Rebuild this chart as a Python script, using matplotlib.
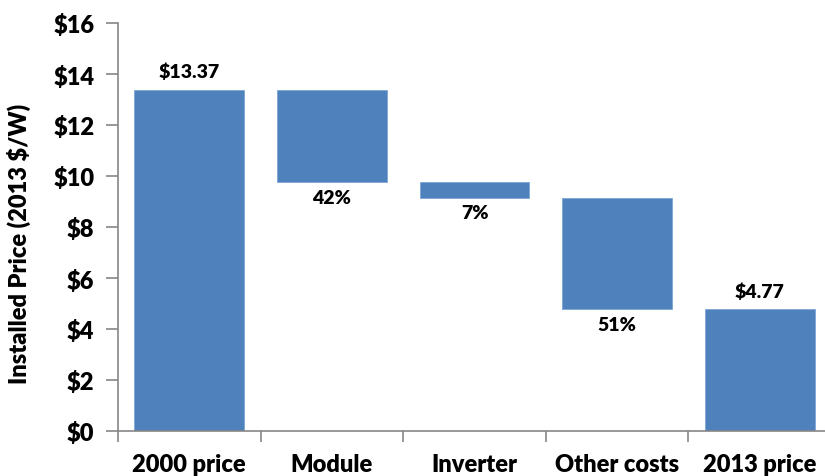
import matplotlib.pyplot as plt
import numpy as np

categories = ['2000 price', 'Module', 'Inverter', 'Other costs', '2013 price']
start_price = 13.37
end_price = 4.77
shares = [0.42, 0.07, 0.51]          # share of total drop per component
share_labels = ['42%', '7%', '51%']

yticks = np.arange(0, 17, 2)
ytick_labels = ['$%d' % v for v in yticks]

bar_color = '#4F81BD'
axis_color = '#868686'

plt.rcParams['font.family'] = ['Lato', 'DejaVu Sans']
W = 'heavy'

fig = plt.figure(figsize=(8.25, 4.77), dpi=100)
ax = fig.add_axes([118/825, 45/477, 713/825, 408/477])

drop = start_price - end_price
tops = [start_price]
bottoms = [0]
level = start_price
for s in shares:
    d = drop * s
    tops.append(level)
    bottoms.append(level - d)
    level -= d
tops.append(end_price)
bottoms.append(0)
heights = [t - b for t, b in zip(tops, bottoms)]

x = np.arange(len(categories))
ax.bar(x, heights, bottom=bottoms, width=0.77, color=bar_color,
       edgecolor='#7EA6D6', linewidth=0.6)

# value labels on totals
for i, v in [(0, start_price), (4, end_price)]:
    ax.annotate('$%.2f' % v, (x[i], v), xytext=(0, 7), textcoords='offset points',
                ha='center', va='bottom', fontsize=14, fontweight=W)
# percent labels under the drops
for i, lab in enumerate(share_labels, start=1):
    ax.annotate(lab, (x[i], bottoms[i]), xytext=(0, -5), textcoords='offset points',
                ha='center', va='top', fontsize=14, fontweight=W)

ax.set_xlim(-0.5, len(categories) - 0.5)
ax.set_ylim(0, 16)
ax.set_yticks(yticks)
ax.set_yticklabels(ytick_labels, fontsize=17, fontweight=W)
ax.set_xticks(x)
ax.set_xticklabels(categories, fontsize=17, fontweight=W)
ax.set_xticks(np.arange(len(categories) + 1) - 0.5, minor=True)
ax.tick_params(axis='x', which='major', length=0, pad=16)
ax.tick_params(axis='x', which='minor', length=8, color=axis_color, width=1.2)
ax.tick_params(axis='y', length=9, color=axis_color, width=1.2, pad=8)

for sp in ['top', 'right']:
    ax.spines[sp].set_visible(False)
for sp in ['left', 'bottom']:
    ax.spines[sp].set_color(axis_color)
    ax.spines[sp].set_linewidth(1.2)

ax.set_ylabel('Installed Price (2013 $/W)', fontsize=17, fontweight=W)
ax.yaxis.set_label_coords(-0.122, 0.46)

plt.savefig('out.png', dpi=100)
